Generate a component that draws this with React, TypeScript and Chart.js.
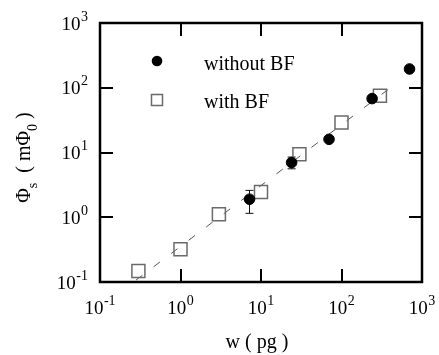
import React, { useEffect, useRef } from 'react';
import { Chart, registerables } from 'chart.js';

Chart.register(...registerables);

// ---- data ----
const withoutBF_w = [7.2, 24, 70, 240, 700];
const withoutBF_phi = [1.9, 7.0, 16, 68, 195];
const withoutBF_errLow: (number | null)[] = [1.15, 5.6, null, null, null];
const withoutBF_errHigh: (number | null)[] = [2.6, 8.5, null, null, null];

const withBF_w = [0.3, 1.0, 3.0, 10, 30, 100, 300];
const withBF_phi = [0.148, 0.32, 1.11, 2.45, 9.4, 29, 75];

const fit_w = [0.28, 500];
const fit_phi = [0.107, 122];

const decadeValues = [0.1, 1, 10, 100, 1000];
const decadeExponents = ['-1', '0', '1', '2', '3'];

const seriesLabels = ['without BF', 'with BF'];

const FONT = '"Liberation Serif", "Times New Roman", serif';

const decoPlugin = {
  id: 'deco',
  beforeDatasetsDraw(chart: any) {
    const ctx = chart.ctx;
    const xs = chart.scales.x;
    const ys = chart.scales.y;
    ctx.save();
    ctx.strokeStyle = '#111';
    ctx.lineWidth = 1;
    withoutBF_w.forEach((w, i) => {
      const lo = withoutBF_errLow[i];
      const hi = withoutBF_errHigh[i];
      if (lo == null || hi == null) return;
      const px = xs.getPixelForValue(w);
      const y1 = ys.getPixelForValue(lo);
      const y2 = ys.getPixelForValue(hi);
      ctx.beginPath();
      ctx.moveTo(px, y1);
      ctx.lineTo(px, y2);
      ctx.moveTo(px - 4, y1);
      ctx.lineTo(px + 4, y1);
      ctx.moveTo(px - 4, y2);
      ctx.lineTo(px + 4, y2);
      ctx.stroke();
    });
    ctx.restore();
  },
  afterDatasetsDraw(chart: any) {
    const ctx = chart.ctx;
    const { left, right, top, bottom } = chart.chartArea;
    const xs = chart.scales.x;
    const ys = chart.scales.y;
    ctx.save();
    // frame
    ctx.strokeStyle = '#000';
    ctx.lineWidth = 2.5;
    ctx.strokeRect(left, top, right - left, bottom - top);
    // inward ticks
    ctx.lineWidth = 2;
    const tl = 13;
    ctx.beginPath();
    decadeValues.forEach((v) => {
      const px = Math.round(xs.getPixelForValue(v));
      if (px > left + 2 && px < right - 2) {
        ctx.moveTo(px, bottom);
        ctx.lineTo(px, bottom - tl);
        ctx.moveTo(px, top);
        ctx.lineTo(px, top + tl);
      }
      const py = Math.round(ys.getPixelForValue(v));
      if (py > top + 2 && py < bottom - 2) {
        ctx.moveTo(left, py);
        ctx.lineTo(left + tl, py);
        ctx.moveTo(right, py);
        ctx.lineTo(right - tl, py);
      }
    });
    ctx.stroke();

    // tick labels
    const mainFont = `19px ${FONT}`;
    const supFont = `14px ${FONT}`;
    ctx.fillStyle = '#000';
    ctx.textBaseline = 'alphabetic';
    ctx.textAlign = 'left';
    const drawPow = (exp: string, x: number, baseline: number, align: 'center' | 'right') => {
      ctx.font = mainFont;
      const w1 = ctx.measureText('10').width;
      ctx.font = supFont;
      const w2 = ctx.measureText(exp).width;
      const total = w1 + w2 + 0.5;
      const x0 = align === 'center' ? x - total / 2 : x - total;
      ctx.font = mainFont;
      ctx.fillText('10', x0, baseline);
      ctx.font = supFont;
      ctx.fillText(exp, x0 + w1 + 0.5, baseline - 9);
    };
    decadeValues.forEach((v, i) => {
      const px = xs.getPixelForValue(v);
      drawPow(decadeExponents[i], px, bottom + 32, 'center');
      const py = ys.getPixelForValue(v);
      drawPow(decadeExponents[i], left - 12, py + 6.5, 'right');
    });

    // x title
    ctx.font = `20px ${FONT}`;
    ctx.textAlign = 'center';
    ctx.fillText('w ( pg )', (left + right) / 2 - 4, 348);

    // y title (rotated, with subscripts)
    const parts: [string, boolean][] = [
      ['\u03A6', false],
      ['s', true],
      ['  ( m\u03A6', false],
      ['0', true],
      [' )', false],
    ];
    const tFont = `20px ${FONT}`;
    const sFont = `14px ${FONT}`;
    let tw = 0;
    const widths = parts.map(([t, sub]) => {
      ctx.font = sub ? sFont : tFont;
      const w = ctx.measureText(t).width;
      tw += w;
      return w;
    });
    ctx.translate(30, (top + bottom) / 2 + 5);
    ctx.rotate(-Math.PI / 2);
    ctx.textAlign = 'left';
    let cx = -tw / 2;
    parts.forEach(([t, sub], i) => {
      ctx.font = sub ? sFont : tFont;
      ctx.fillText(t, cx, sub ? 7 : 0);
      cx += widths[i];
    });
    ctx.restore();

    // legend
    ctx.save();
    const ds = chart.data.datasets;
    ctx.fillStyle = ds[0].backgroundColor;
    ctx.beginPath();
    ctx.arc(157, 61, 5.3, 0, Math.PI * 2);
    ctx.fill();
    ctx.strokeStyle = ds[1].borderColor;
    ctx.lineWidth = 1.5;
    ctx.strokeRect(151.5, 94.5, 11, 11);
    ctx.fillStyle = '#000';
    ctx.font = `20px ${FONT}`;
    ctx.textAlign = 'left';
    ctx.textBaseline = 'alphabetic';
    ctx.fillText(seriesLabels[0], 204, 70);
    ctx.fillText(seriesLabels[1], 204, 108);
    ctx.restore();
  },
};

export default function App() {
  const ref = useRef<HTMLCanvasElement | null>(null);
  useEffect(() => {
    if (!ref.current) return;
    const chart = new Chart(ref.current, {
      type: 'scatter',
      data: {
        datasets: [
          {
            label: seriesLabels[0],
            data: withoutBF_w.map((x, i) => ({ x, y: withoutBF_phi[i] })),
            pointStyle: 'circle',
            pointRadius: 5.3,
            pointBorderWidth: 1,
            backgroundColor: '#000',
            borderColor: '#000',
            showLine: false,
          },
          {
            label: seriesLabels[1],
            data: withBF_w.map((x, i) => ({ x, y: withBF_phi[i] })),
            pointStyle: 'rect',
            pointRadius: 9.2,
            pointBorderWidth: 1.5,
            backgroundColor: 'rgba(0,0,0,0)',
            borderColor: '#6a6a6a',
            showLine: false,
          },
          {
            label: 'fit',
            type: 'line',
            data: fit_w.map((x, i) => ({ x, y: fit_phi[i] })),
            borderColor: '#555',
            borderWidth: 1,
            borderDash: [8, 14],
            pointRadius: 0,
            fill: false,
          } as any,
        ],
      },
      options: {
        responsive: false,
        animation: false,
        devicePixelRatio: 1,
        layout: { padding: { left: 100, top: 23, right: 17, bottom: 73 } },
        plugins: { legend: { display: false }, tooltip: { enabled: false } },
        scales: {
          x: { type: 'logarithmic', min: 0.1, max: 1000, display: false },
          y: { type: 'logarithmic', min: 0.1, max: 1000, display: false },
        },
      } as any,
      plugins: [decoPlugin],
    });
    return () => chart.destroy();
  }, []);
  return (
    <div style={{ position: 'fixed', left: 0, top: 0, width: 439, height: 355, background: '#fff' }}>
      <canvas ref={ref} width={439} height={355} style={{ display: 'block' }} />
    </div>
  );
}
